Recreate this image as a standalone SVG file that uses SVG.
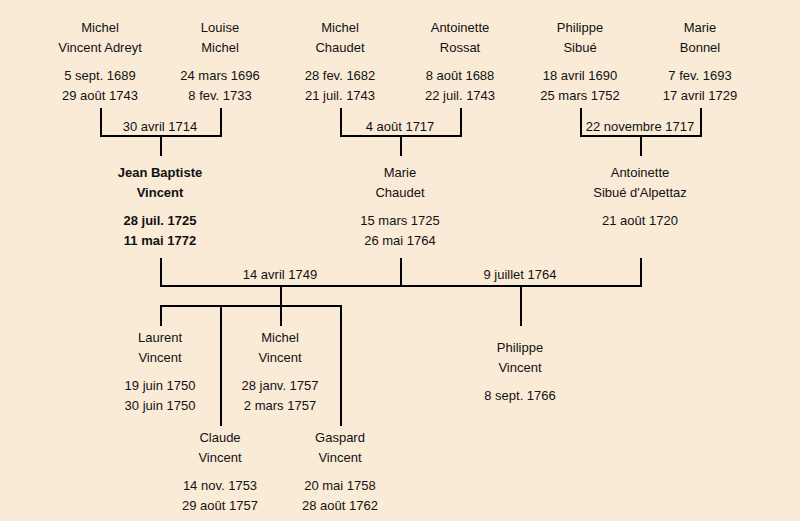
<svg xmlns="http://www.w3.org/2000/svg" width="800" height="521" viewBox="0 0 800 521">
<style>
text{font-family:"Liberation Sans",Arial,sans-serif;font-size:13px;fill:#111;text-anchor:middle}
.b{font-weight:bold}
.ln{stroke:#000;stroke-width:2;fill:none}
</style>
<rect width="800" height="521" fill="#FAEBD7"/>
<g id="connectors" class="ln">
<path d="M101,108V136H221V108M161,136V156"/>
<path d="M341,108V136H461V108M401,136V156"/>
<path d="M581,108V136H701V108M641,136V156"/>
<path d="M161,258V286H641V258M401,258V286M281,286V306M521,286V326"/>
<path d="M161,326V306H341V426M221,306V426M281,306V326"/>
</g>
<g id="labels">
<text x="160" y="131">30 avril 1714</text>
<text x="400" y="131">4 août 1717</text>
<text x="640" y="131">22 novembre 1717</text>
<text x="280" y="279">14 avril 1749</text>
<text x="520" y="279">9 juillet 1764</text>
</g>
<g id="michel-vincent-adreyt"><text x="100" y="32">Michel</text><text x="100" y="52">Vincent Adreyt</text><text x="100" y="80">5 sept. 1689</text><text x="100" y="100">29 août 1743</text></g>
<g id="louise-michel"><text x="220" y="32">Louise</text><text x="220" y="52">Michel</text><text x="220" y="80">24 mars 1696</text><text x="220" y="100">8 fev. 1733</text></g>
<g id="michel-chaudet"><text x="340" y="32">Michel</text><text x="340" y="52">Chaudet</text><text x="340" y="80">28 fev. 1682</text><text x="340" y="100">21 juil. 1743</text></g>
<g id="antoinette-rossat"><text x="460" y="32">Antoinette</text><text x="460" y="52">Rossat</text><text x="460" y="80">8 août 1688</text><text x="460" y="100">22 juil. 1743</text></g>
<g id="philippe-sibue"><text x="580" y="32">Philippe</text><text x="580" y="52">Sibué</text><text x="580" y="80">18 avril 1690</text><text x="580" y="100">25 mars 1752</text></g>
<g id="marie-bonnel"><text x="700" y="32">Marie</text><text x="700" y="52">Bonnel</text><text x="700" y="80">7 fev. 1693</text><text x="700" y="100">17 avril 1729</text></g>
<g id="jean-baptiste-vincent" class="b"><text class="b" x="160" y="177">Jean Baptiste</text><text class="b" x="160" y="197">Vincent</text><text class="b" x="160" y="225">28 juil. 1725</text><text class="b" x="160" y="245">11 mai 1772</text></g>
<g id="marie-chaudet"><text x="400" y="177">Marie</text><text x="400" y="197">Chaudet</text><text x="400" y="225">15 mars 1725</text><text x="400" y="245">26 mai 1764</text></g>
<g id="antoinette-sibue"><text x="640" y="177">Antoinette</text><text x="640" y="197">Sibué d'Alpettaz</text><text x="640" y="225">21 août 1720</text></g>
<g id="laurent-vincent"><text x="160" y="342">Laurent</text><text x="160" y="362">Vincent</text><text x="160" y="390">19 juin 1750</text><text x="160" y="410">30 juin 1750</text></g>
<g id="michel-vincent"><text x="280" y="342">Michel</text><text x="280" y="362">Vincent</text><text x="280" y="390">28 janv. 1757</text><text x="280" y="410">2 mars 1757</text></g>
<g id="claude-vincent"><text x="220" y="442">Claude</text><text x="220" y="462">Vincent</text><text x="220" y="490">14 nov. 1753</text><text x="220" y="510">29 août 1757</text></g>
<g id="gaspard-vincent"><text x="340" y="442">Gaspard</text><text x="340" y="462">Vincent</text><text x="340" y="490">20 mai 1758</text><text x="340" y="510">28 août 1762</text></g>
<g id="philippe-vincent"><text x="520" y="352">Philippe</text><text x="520" y="372">Vincent</text><text x="520" y="400">8 sept. 1766</text></g>
</svg>
